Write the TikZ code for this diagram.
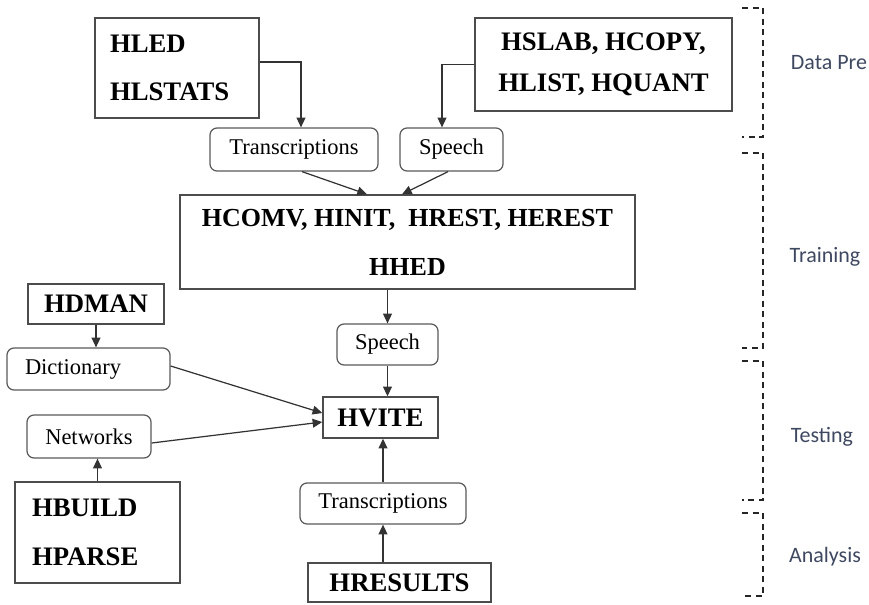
\documentclass[tikz,border=0pt]{standalone}
\usepackage{fontspec}
\setmainfont{Liberation Serif}
\newfontfamily\calibrifont{Carlito}
\usepackage{tikz}
\usetikzlibrary{arrows.meta}
\definecolor{phasetext}{RGB}{62,72,96}

\begin{document}
\begin{tikzpicture}[
    box/.style={rectangle, draw=black!70, line width=0.8pt, inner sep=0pt,
                font=\fontsize{15.2}{27}\selectfont\bfseries, align=center},
    rbox/.style={rectangle, rounded corners=4pt, draw=black!65, line width=0.7pt,
                inner sep=0pt, font=\fontsize{12.8}{15}\selectfont, align=center},
    arr/.style={-{Triangle[length=5.5pt, width=5pt]}, line width=0.7pt, black!80},
    phase/.style={font=\calibrifont\fontsize{12.5}{15}\selectfont, text=phasetext},
    brk/.style={line width=0.9pt, black!85, dash pattern=on 3.4pt off 2.6pt},
]
\useasboundingbox (0,0) rectangle (17.38,-12.08);

% Data preparation tools
\node[box, minimum width=3.28cm, minimum height=2cm, text width=2.68cm, align=left]
    (hled) at (3.54,-1.36) {HLED\\HLSTATS};
\node[box, minimum width=5.14cm, minimum height=1.86cm,
      font=\fontsize{15.2}{23.3}\selectfont\bfseries]
    (hslab) at (12.07,-1.29) {HSLAB, HCOPY,\\HLIST, HQUANT};

% Data files
\node[rbox, minimum width=3.36cm, minimum height=0.86cm] (trans1) at (5.88,-2.99) {Transcriptions};
\node[rbox, minimum width=2.06cm, minimum height=0.86cm] (speech1) at (9.03,-2.99) {Speech};

% Training tools
\node[box, minimum width=9.1cm, minimum height=1.88cm,
      font=\fontsize{14.8}{27.9}\selectfont\bfseries]
    (hcomv) at (8.15,-4.84) {HCOMV, HINIT,\ \ HREST, HEREST\\HHED};

% Testing
\node[box, minimum width=2.72cm, minimum height=0.8cm] (hdman) at (1.92,-6.08) {HDMAN};
\node[rbox, minimum width=3.26cm, minimum height=0.84cm, text width=2.54cm, align=left]
    (dict) at (1.77,-7.38) {Dictionary};
\node[rbox, minimum width=2.02cm, minimum height=0.82cm] (speech2) at (7.75,-6.89) {Speech};
\node[box, minimum width=2.3cm, minimum height=0.82cm] (hvite) at (7.61,-8.35) {HVITE};
\node[rbox, minimum width=2.48cm, minimum height=0.86cm] (nets) at (1.78,-8.73) {Networks};
\node[box, minimum width=3.3cm, minimum height=2.02cm, text width=2.62cm, align=left,
      font=\fontsize{15.2}{27.9}\selectfont\bfseries]
    (hbuild) at (1.95,-10.65) {HBUILD\\HPARSE};

% Analysis
\node[rbox, minimum width=3.32cm, minimum height=0.82cm] (trans2) at (7.66,-10.07) {Transcriptions};
\node[box, minimum width=3.66cm, minimum height=0.78cm] (hres) at (7.99,-11.65) {HRESULTS};

% Phase labels
\node[phase] (lprep) at (16.58,-1.26) {Data Pre};
\node[phase] (ltrain) at (16.5,-5.14) {Training};
\node[phase] (ltest) at (16.44,-8.74) {Testing};
\node[phase] (lanal) at (16.5,-11.14) {Analysis};

% === Arrows ===
\draw[arr] ([yshift=0.12cm]hled.east) -| ([xshift=0.14cm]trans1.north);
\draw[arr] (hslab.west) -| ([xshift=-0.19cm]speech1.north);
\draw[arr] ([xshift=0.16cm]trans1.south) -- ([xshift=-0.81cm]hcomv.north);
\draw[arr] ([xshift=-0.07cm]speech1.south) -- ([xshift=-0.11cm]hcomv.north);
\draw[arr] (speech2.north |- hcomv.south) -- (speech2.north);
\draw[arr] (speech2.south) -- (speech2.south |- hvite.north);
\draw[arr] (hdman.south) -- (hdman.south |- dict.north);
\draw[arr] ([yshift=0.06cm]dict.east) -- ([yshift=0.09cm]hvite.west);
\draw[arr] ([yshift=-0.13cm]nets.east) -- ([yshift=-0.09cm]hvite.west);
\draw[arr] (hbuild.north) -- (hbuild.north |- nets.south);
\draw[arr] (trans2.north) -- (trans2.north |- hvite.south);
\draw[arr] (trans2.south |- hres.north) -- (trans2.south);

% Phase brackets
\draw[brk] (14.84,-0.16) -- (15.26,-0.16) -- (15.26,-2.74) -- (14.84,-2.74);
\draw[brk] (14.84,-3.06) -- (15.26,-3.06) -- (15.26,-6.96) -- (14.84,-6.96);
\draw[brk] (14.84,-7.22) -- (15.26,-7.22) -- (15.26,-10.0) -- (14.84,-10.0);
\draw[brk] (14.84,-10.26) -- (15.26,-10.26) -- (15.26,-11.92) -- (14.84,-11.92);

\end{tikzpicture}
\end{document}
